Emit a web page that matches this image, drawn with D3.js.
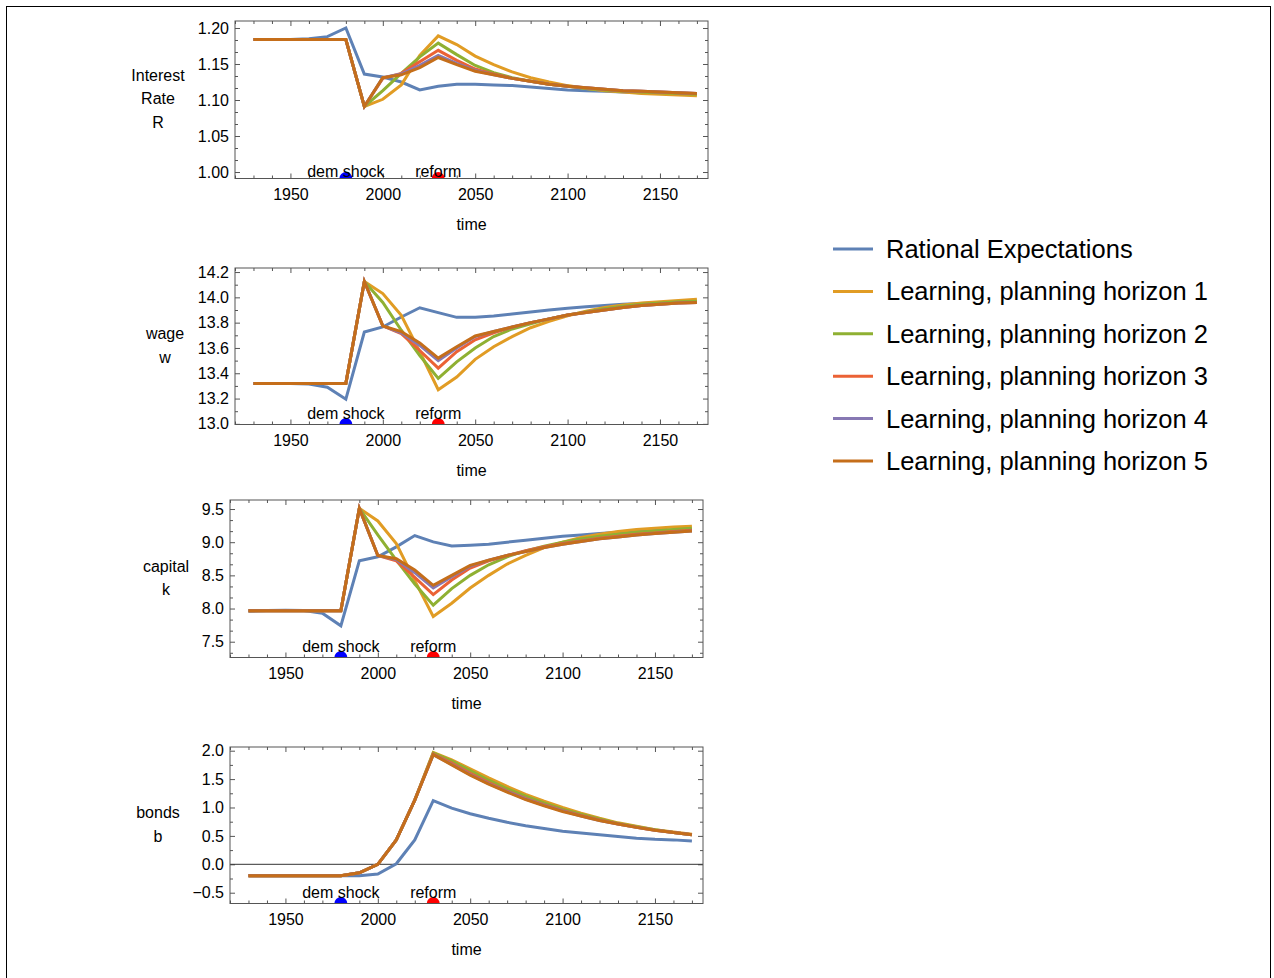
<!DOCTYPE html>
<html>
<head>
<meta charset="utf-8">
<script src="https://cdn.jsdelivr.net/npm/d3@7"></script>
<style>
  html, body { margin: 0; padding: 0; background: #fff; }
  svg { display: block; font-family: "Liberation Sans", Arial, sans-serif; }
</style>
</head>
<body>
<svg id="chart" width="1274" height="978"></svg>
<script>
// ---------------- DATA ----------------
const years = [1930,1940,1950,1960,1970,1980,1990,2000,2010,2020,2030,2040,2050,2060,2070,2080,2090,2100,2110,2120,2130,2140,2150,2160,2170];

const seriesNames = ["Rational Expectations","Learning, planning horizon 1","Learning, planning horizon 2","Learning, planning horizon 3","Learning, planning horizon 4","Learning, planning horizon 5"];
const seriesColors = ["#5E81B5","#E19C24","#8FB032","#EB6235","#8778B3","#C56E1A"];

// Interest rate R
const rateRE = [1.184,1.184,1.184,1.185,1.188,1.200,1.136,1.132,1.125,1.114,1.119,1.122,1.122,1.121,1.120,1.118,1.116,1.114,1.113,1.112,1.111,1.110,1.109,1.109,1.108];
const rateH1 = [1.184,1.184,1.184,1.184,1.184,1.184,1.091,1.101,1.121,1.162,1.189,1.177,1.161,1.149,1.139,1.131,1.125,1.120,1.116,1.113,1.111,1.109,1.108,1.107,1.106];
const rateH2 = [1.184,1.184,1.184,1.184,1.184,1.184,1.091,1.113,1.137,1.160,1.179,1.163,1.148,1.138,1.131,1.126,1.122,1.119,1.116,1.114,1.112,1.111,1.110,1.109,1.108];
const rateH3 = [1.184,1.184,1.184,1.184,1.184,1.184,1.091,1.130,1.137,1.153,1.169,1.155,1.143,1.136,1.130,1.126,1.122,1.119,1.117,1.115,1.113,1.112,1.111,1.110,1.109];
const rateH4 = [1.184,1.184,1.184,1.184,1.184,1.184,1.091,1.131,1.136,1.148,1.162,1.151,1.141,1.135,1.130,1.126,1.122,1.119,1.117,1.115,1.113,1.112,1.111,1.110,1.109];
const rateH5 = [1.184,1.184,1.184,1.184,1.184,1.184,1.091,1.131,1.135,1.145,1.159,1.149,1.140,1.135,1.130,1.126,1.122,1.119,1.117,1.115,1.113,1.112,1.111,1.110,1.109];

// wage w
const wageRE = [13.32,13.32,13.32,13.315,13.29,13.195,13.726,13.766,13.845,13.918,13.879,13.842,13.843,13.853,13.868,13.885,13.900,13.913,13.925,13.935,13.945,13.952,13.957,13.962,13.965];
const wageH1 = [13.32,13.32,13.32,13.32,13.32,13.32,14.125,14.03,13.858,13.57,13.27,13.37,13.51,13.61,13.69,13.76,13.81,13.855,13.89,13.92,13.94,13.955,13.965,13.975,13.985];
const wageH2 = [13.32,13.32,13.32,13.32,13.32,13.32,14.125,13.96,13.74,13.54,13.36,13.49,13.60,13.69,13.75,13.79,13.83,13.86,13.885,13.91,13.93,13.945,13.955,13.965,13.97];
const wageH3 = [13.32,13.32,13.32,13.32,13.32,13.32,14.125,13.774,13.713,13.58,13.44,13.57,13.665,13.72,13.765,13.80,13.83,13.86,13.88,13.90,13.92,13.935,13.945,13.955,13.96];
const wageH4 = [13.32,13.32,13.32,13.32,13.32,13.32,14.125,13.774,13.72,13.62,13.50,13.60,13.69,13.73,13.765,13.80,13.83,13.86,13.88,13.90,13.92,13.935,13.945,13.955,13.96];
const wageH5 = [13.32,13.32,13.32,13.32,13.32,13.32,14.125,13.774,13.73,13.64,13.52,13.61,13.695,13.73,13.765,13.80,13.83,13.86,13.88,13.90,13.92,13.935,13.945,13.955,13.96];

// capital k
const capitalRE = [7.96,7.97,7.975,7.97,7.93,7.74,8.72,8.78,8.93,9.10,9.005,8.944,8.955,8.97,9.00,9.03,9.06,9.09,9.11,9.13,9.15,9.165,9.175,9.18,9.19];
const capitalH1 = [7.965,7.965,7.965,7.965,7.965,7.965,9.51,9.32,8.98,8.42,7.88,8.08,8.31,8.50,8.67,8.80,8.92,9.00,9.07,9.12,9.16,9.19,9.21,9.23,9.24];
const capitalH2 = [7.965,7.965,7.965,7.965,7.965,7.965,9.51,9.11,8.73,8.37,8.05,8.30,8.50,8.66,8.78,8.87,8.94,9.00,9.05,9.09,9.12,9.15,9.17,9.19,9.21];
const capitalH3 = [7.965,7.965,7.965,7.965,7.965,7.965,9.51,8.80,8.72,8.47,8.21,8.43,8.61,8.72,8.80,8.87,8.93,8.98,9.02,9.06,9.09,9.12,9.14,9.16,9.18];
const capitalH4 = [7.965,7.965,7.965,7.965,7.965,7.965,9.51,8.80,8.74,8.54,8.31,8.48,8.64,8.73,8.80,8.86,8.92,8.97,9.01,9.05,9.08,9.11,9.13,9.15,9.17];
const capitalH5 = [7.965,7.965,7.965,7.965,7.965,7.965,9.51,8.80,8.75,8.58,8.35,8.50,8.65,8.73,8.80,8.86,8.92,8.97,9.01,9.05,9.08,9.11,9.13,9.15,9.17];

// bonds b
const bondsRE = [-0.20,-0.20,-0.20,-0.20,-0.20,-0.20,-0.20,-0.17,0.01,0.43,1.12,0.99,0.89,0.81,0.74,0.68,0.63,0.58,0.55,0.52,0.49,0.46,0.44,0.43,0.41];
const bondsH1 = [-0.20,-0.20,-0.20,-0.20,-0.20,-0.20,-0.15,0.00,0.43,1.13,1.97,1.84,1.68,1.52,1.37,1.23,1.11,1.00,0.90,0.81,0.73,0.67,0.61,0.57,0.53];
const bondsH2 = [-0.20,-0.20,-0.20,-0.20,-0.20,-0.20,-0.15,0.00,0.43,1.13,1.96,1.82,1.65,1.48,1.33,1.20,1.08,0.97,0.88,0.80,0.72,0.66,0.61,0.56,0.52];
const bondsH3 = [-0.20,-0.20,-0.20,-0.20,-0.20,-0.20,-0.15,0.00,0.43,1.13,1.94,1.78,1.60,1.44,1.29,1.16,1.05,0.95,0.86,0.78,0.71,0.65,0.60,0.56,0.52];
const bondsH4 = [-0.20,-0.20,-0.20,-0.20,-0.20,-0.20,-0.15,0.00,0.43,1.13,1.93,1.76,1.58,1.42,1.28,1.15,1.04,0.94,0.85,0.77,0.71,0.65,0.60,0.56,0.52];
const bondsH5 = [-0.20,-0.20,-0.20,-0.20,-0.20,-0.20,-0.15,0.00,0.43,1.13,1.93,1.75,1.57,1.41,1.27,1.14,1.03,0.93,0.85,0.77,0.71,0.65,0.60,0.56,0.52];

// ticks
const xTicks = [1950,2000,2050,2100,2150];
const rateTicks = [1.00,1.05,1.10,1.15,1.20];
const wageTicks = [13.0,13.2,13.4,13.6,13.8,14.0,14.2];
const capitalTicks = [7.5,8.0,8.5,9.0,9.5];
const bondsTicks = [-0.5,0.0,0.5,1.0,1.5,2.0];

// events
const eventNames = ["dem shock","reform"];
const eventYears = [1980,2030];
const eventColors = ["#0000FF","#FF0000"];

// ---------------- LAYOUT ----------------
const panels = [
  { series:[rateRE,rateH1,rateH2,rateH3,rateH4,rateH5], ticks:rateTicks, fmt:d3.format(".2f"), minorStep:0.05/3,
    yDomain:[0.991,1.2097], left:235, right:708, top:21, bottom:178.5, label:["Interest","Rate","R"], labelX:158, annOff:7, zero:false },
  { series:[wageRE,wageH1,wageH2,wageH3,wageH4,wageH5], ticks:wageTicks, fmt:d3.format(".1f"), minorStep:0.1,
    yDomain:[12.995,14.232], left:235, right:708, top:268, bottom:424.5, label:["wage","w"], labelX:165, annOff:11, zero:false },
  { series:[capitalRE,capitalH1,capitalH2,capitalH3,capitalH4,capitalH5], ticks:capitalTicks, fmt:d3.format(".1f"), minorStep:0.5/3,
    yDomain:[7.262,9.636], left:230, right:703, top:500, bottom:657.5, label:["capital","k"], labelX:166, annOff:11, zero:false },
  { series:[bondsRE,bondsH1,bondsH2,bondsH3,bondsH4,bondsH5], ticks:bondsTicks, fmt:d3.format(".1f"), minorStep:0.25,
    yDomain:[-0.69,2.065], left:230, right:703, top:747, bottom:903.5, label:["bonds","b"], labelX:158, annOff:11, zero:true }
];
const xDomain = [1920, 2176];

const svg = d3.select("#chart");

// outer border
svg.append("rect").attr("x",6.5).attr("y",6.5).attr("width",1264).attr("height",1000)
  .attr("fill","none").attr("stroke","#000").attr("stroke-width",1);

const FONT = 16;

function range(a, b, step) {
  const out = [];
  const n = Math.round((b - a) / step);
  for (let i = 0; i <= n; i++) out.push(a + i * step);
  return out;
}

panels.forEach((p, pi) => {
  const x = d3.scaleLinear().domain(xDomain).range([p.left, p.right]);
  const y = d3.scaleLinear().domain(p.yDomain).range([p.bottom, p.top]);
  const g = svg.append("g");

  const clipId = "clip" + pi;
  svg.append("clipPath").attr("id", clipId).append("rect")
    .attr("x", p.left).attr("y", p.top).attr("width", p.right - p.left).attr("height", p.bottom - p.top);

  // minor ticks
  const xMinor = range(1920, 2170, 10).filter(v => v >= xDomain[0] && v <= xDomain[1] && !xTicks.includes(v));
  const step = p.minorStep;
  const yMinor = range(p.ticks[0] - step * 6, p.ticks[p.ticks.length - 1] + step * 6, step)
    .filter(v => v >= p.yDomain[0] && v <= p.yDomain[1] && !p.ticks.some(t => Math.abs(t - v) < 1e-6));

  function axisGroup(axis, tx, ty) {
    const a = g.append("g").attr("transform", `translate(${tx},${ty})`).call(axis);
    a.select(".domain").remove();
    a.selectAll("line").attr("stroke", "#555").attr("stroke-width", 1);
    a.selectAll("text").attr("font-size", FONT).attr("fill", "#000").attr("font-family", '"Liberation Sans", Arial, sans-serif');
    return a;
  }
  // bottom
  axisGroup(d3.axisBottom(x).tickValues(xTicks).tickFormat(d3.format("d")).tickSizeInner(-5).tickSizeOuter(0).tickPadding(10), 0, p.bottom);
  axisGroup(d3.axisBottom(x).tickValues(xMinor).tickFormat("").tickSizeInner(-3).tickSizeOuter(0), 0, p.bottom);
  // top
  axisGroup(d3.axisTop(x).tickValues(xTicks).tickFormat("").tickSizeInner(-5).tickSizeOuter(0), 0, p.top);
  axisGroup(d3.axisTop(x).tickValues(xMinor).tickFormat("").tickSizeInner(-3).tickSizeOuter(0), 0, p.top);
  // left
  axisGroup(d3.axisLeft(y).tickValues(p.ticks).tickFormat(v => p.fmt(v).replace("-", "\u2212")).tickSizeInner(-5).tickSizeOuter(0).tickPadding(6), p.left, 0);
  axisGroup(d3.axisLeft(y).tickValues(yMinor).tickFormat("").tickSizeInner(-3).tickSizeOuter(0), p.left, 0);
  // right
  axisGroup(d3.axisRight(y).tickValues(p.ticks).tickFormat("").tickSizeInner(-5).tickSizeOuter(0), p.right, 0);
  axisGroup(d3.axisRight(y).tickValues(yMinor).tickFormat("").tickSizeInner(-3).tickSizeOuter(0), p.right, 0);

  // zero line
  if (p.zero) {
    g.append("line").attr("x1", p.left).attr("x2", p.right).attr("y1", y(0)).attr("y2", y(0))
      .attr("stroke", "#333").attr("stroke-width", 1);
  }

  // series
  const line = d3.line().x((d, i) => x(years[i])).y(d => y(d));
  const plot = g.append("g").attr("clip-path", `url(#${clipId})`);
  p.series.forEach((s, si) => {
    plot.append("path").datum(s).attr("d", line)
      .attr("fill", "none").attr("stroke", seriesColors[si]).attr("stroke-width", 3)
      .attr("stroke-linejoin", "miter").attr("stroke-linecap", "butt");
  });

  // events
  eventYears.forEach((ey, ei) => {
    plot.append("circle").attr("cx", x(ey)).attr("cy", p.bottom).attr("r", 6.5).attr("fill", eventColors[ei]);
    g.append("text").attr("x", x(ey)).attr("y", p.bottom - p.annOff).attr("dy", "0.35em")
      .attr("text-anchor", "middle").attr("font-size", FONT).attr("fill", "#000").text(eventNames[ei]);
  });

  // frame
  g.append("rect").attr("x", p.left).attr("y", p.top).attr("width", p.right - p.left).attr("height", p.bottom - p.top)
    .attr("fill", "none").attr("stroke", "#555").attr("stroke-width", 1);

  // y label (multi-line, centered on frame)
  const lh = 23.5;
  const cy = (p.top + p.bottom) / 2;
  const n = p.label.length;
  p.label.forEach((t, li) => {
    g.append("text").attr("x", p.labelX).attr("y", cy - 1 + (li - (n - 1) / 2) * lh).attr("dy", "0.35em")
      .attr("text-anchor", "middle").attr("font-size", FONT).attr("fill", "#000").text(t);
  });

  // x label
  g.append("text").attr("x", (p.left + p.right) / 2).attr("y", p.bottom + 46).attr("dy", "0.35em")
    .attr("text-anchor", "middle").attr("font-size", FONT).attr("fill", "#000").text("time");
});

// legend
const legend = svg.append("g");
seriesNames.forEach((name, i) => {
  const ly = 249 + i * 42.4;
  legend.append("line").attr("x1", 833).attr("x2", 873).attr("y1", ly).attr("y2", ly)
    .attr("stroke", seriesColors[i]).attr("stroke-width", 3);
  legend.append("text").attr("x", 886).attr("y", ly).attr("dy", "0.35em")
    .attr("font-size", 25.5).attr("fill", "#000").text(name);
});
</script>
</body>
</html>
